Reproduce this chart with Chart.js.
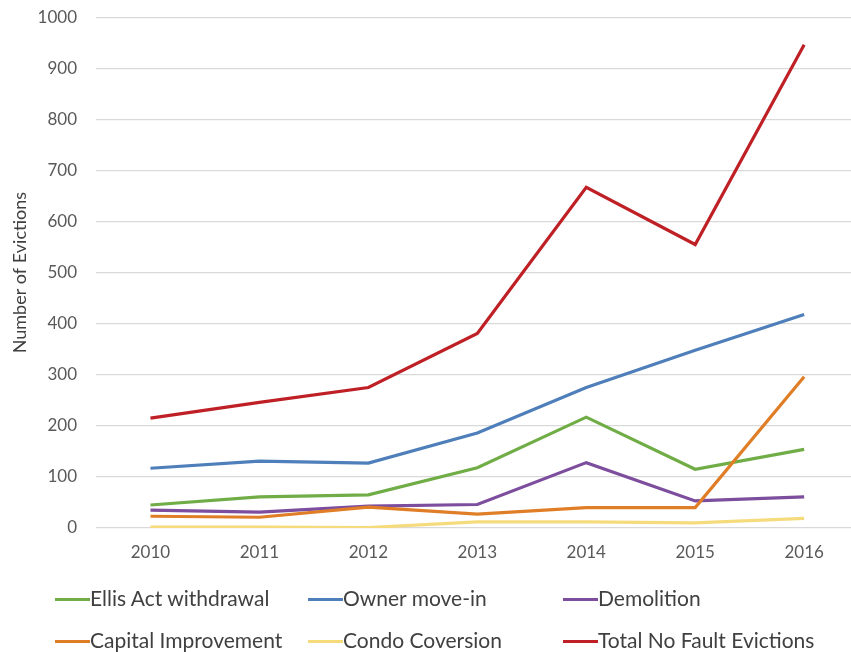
<!DOCTYPE html>
<html><head><meta charset="utf-8">
<script src="https://cdn.jsdelivr.net/npm/chart.js@4.4.1/dist/chart.umd.min.js"></script>
<style>
html,body{margin:0;padding:0;background:#fff;overflow:hidden;}
#wrap{position:relative;width:851px;height:652px;overflow:hidden;}
#box{position:absolute;left:0;top:-12px;width:851px;height:587px;}
#legend{position:absolute;left:0;top:0;width:851px;height:652px;font-family:Lato,"Open Sans",sans-serif;color:#404040;pointer-events:none;}
.li{position:absolute;font-size:21px;line-height:24px;height:24px;white-space:nowrap;}
.li span.sw{display:inline-block;width:35px;height:3px;vertical-align:middle;position:relative;top:-1px;}
</style></head><body>
<div id="wrap"><div id="box"><canvas id="c"></canvas></div><div id="legend"></div></div>
<script>
const years = [2010, 2011, 2012, 2013, 2014, 2015, 2016];
const seriesNames = ["Ellis Act withdrawal", "Owner move-in", "Demolition", "Capital Improvement", "Condo Coversion", "Total No Fault Evictions"];
const ellisAct = [45, 61, 65, 118, 217, 115, 154];
const ownerMoveIn = [117, 131, 127, 186, 275, 348, 418];
const demolition = [35, 31, 43, 46, 128, 53, 61];
const capitalImprovement = [23, 21, 41, 27, 40, 40, 296];
const condoConversion = [2, 2, 1, 12, 12, 10, 19];
const totalNoFault = [215, 246, 275, 381, 667, 555, 946];
const yTicks = [0, 100, 200, 300, 400, 500, 600, 700, 800, 900, 1000];
const colors = ["#70AD47", "#4F7FBA", "#7D4D9E", "#E07E27", "#F6DB7C", "#BE2026"];
const allSeries = [ellisAct, ownerMoveIn, demolition, capitalImprovement, condoConversion, totalNoFault];

const datasets = allSeries.map((vals, i) => ({
  label: seriesNames[i],
  data: vals.map((v, j) => ({x: years[j], y: v})),
  borderColor: colors[i],
  backgroundColor: colors[i],
  borderWidth: 3.2,
  pointRadius: 0,
  tension: 0,
  order: 6 - i
}));

new Chart(document.getElementById('c'), {
  type: 'line',
  data: {datasets},
  options: {
    responsive: true, maintainAspectRatio: false, animation: false,
    layout: {padding: {top: 0, right: 0, left: 0, bottom: 0}},
    plugins: {legend: {display: false}, tooltip: {enabled: false}},
    scales: {
      x: {
        type: 'linear', min: 2009.5, max: 2016.43,
        afterBuildTicks: s => { s.ticks = years.map(v => ({value: v})); },
        grid: {display: false, drawTicks: false},
        border: {display: false},
        ticks: {padding: 14, color: '#595959', font: {family: 'Lato', size: 17}, callback: v => String(v)},
        afterFit: s => { s.height = 47; }
      },
      y: {
        min: 0, max: 1000,
        afterBuildTicks: s => { s.ticks = yTicks.map(v => ({value: v})); },
        grid: {color: '#D9D9D9', lineWidth: 1.3, drawTicks: false},
        border: {display: false},
        ticks: {padding: 19, color: '#595959', font: {family: 'Lato', size: 17}, callback: v => String(v)},
        title: {display: true, text: 'Number of Evictions', color: '#404040', font: {family: 'Lato', size: 18}, padding: {top: 9, bottom: 4}},
        afterFit: s => { s.width = 96; }
      }
    }
  }
});

const legendPos = [[55, 598], [308, 598], [563, 598], [55, 640], [308, 640], [563, 640]];
const lg = document.getElementById('legend');
seriesNames.forEach((n, i) => {
  const d = document.createElement('div');
  d.className = 'li';
  d.style.left = legendPos[i][0] + 'px';
  d.style.top = (legendPos[i][1] - 12) + 'px';
  d.innerHTML = '<span class="sw" style="background:' + colors[i] + '"></span>' + n;
  lg.appendChild(d);
});
</script>
</body></html>
